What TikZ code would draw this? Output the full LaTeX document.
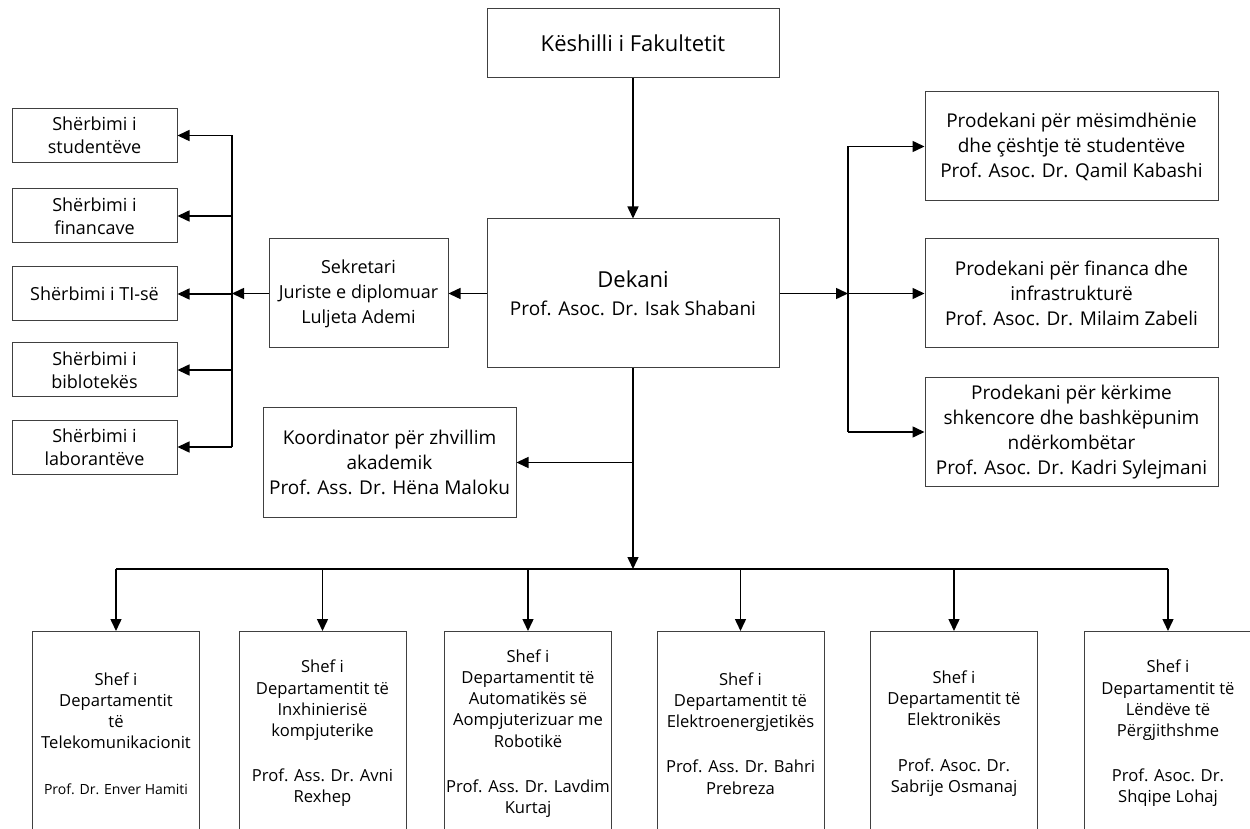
\documentclass[tikz,border=0pt]{standalone}
\usepackage{fontspec}
\setmainfont{Open Sans}
\usetikzlibrary{arrows.meta}

\begin{document}
\begin{tikzpicture}[x=0.5pt, y=-0.5pt,
        box/.style={draw=black!75, line width=0.5pt, inner sep=1pt, align=center},
        mainbox/.style={box, minimum width=146pt, font=\fontsize{9.5pt}{14pt}\selectfont},
        servbox/.style={box, minimum width=82.5pt, minimum height=27pt, font=\fontsize{9pt}{11.5pt}\selectfont},
        midbox/.style={box, minimum height=54.5pt, font=\fontsize{9.5pt}{12.5pt}\selectfont},
        probox/.style={midbox, minimum width=146.5pt},
        depbox/.style={box, anchor=north, minimum width=83.5pt, minimum height=102pt, font=\fontsize{8.3pt}{10.6pt}\selectfont},
        link/.style={line width=0.75pt},
        arr/.style={link, -{Triangle[length=6pt,width=5.5pt]}}]
    \useasboundingbox (0,0) rectangle (1250,829);
    \clip (0,0) rectangle (1250,829);

    % top
    \node[mainbox, minimum height=34.5pt, font=\fontsize{11pt}{14pt}\selectfont] (kes) at (633,43.5) {Këshilli i Fakultetit};
    \node[mainbox, minimum height=74.5pt] (dek) at (633,293.5) {{\fontsize{11pt}{14pt}\selectfont Dekani}\\Prof. Asoc. Dr. Isak Shabani};
    \node[midbox, minimum width=89.5pt, font=\fontsize{9pt}{12.5pt}\selectfont] (sek) at (358.5,293.5) {Sekretari\\Juriste e diplomuar\\Luljeta Ademi};
    \node[midbox, minimum width=126.5pt] (koo) at (389.5,462.5) {Koordinator për zhvillim\\akademik\\Prof. Ass. Dr. Hëna Maloku};

    % services
    \node[servbox] (s1) at (94.5,135.5) {Shërbimi i\\studentëve};
    \node[servbox] (s2) at (94.5,216) {Shërbimi i\\financave};
    \node[servbox] (s3) at (94.5,294) {Shërbimi i TI-së};
    \node[servbox] (s4) at (94.5,370) {Shërbimi i\\biblotekës};
    \node[servbox] (s5) at (94.5,447) {Shërbimi i\\laborantëve};

    % vice deans
    \node[probox] (p1) at (1071.5,146.5) {Prodekani për mësimdhënie\\dhe çështje të studentëve\\Prof. Asoc. Dr. Qamil Kabashi};
    \node[probox] (p2) at (1071.5,293.5) {Prodekani për financa dhe\\infrastrukturë\\Prof. Asoc. Dr. Milaim Zabeli};
    \node[probox] (p3) at (1071.5,432) {Prodekani për kërkime\\shkencore dhe bashkëpunim\\ndërkombëtar\\Prof. Asoc. Dr. Kadri Sylejmani};

    % departments
    \node[depbox] (d1) at (116,631) {Shef i\\Departamentit\\të\\Telekomunikacionit\\[12pt]{\fontsize{7pt}{9pt}\selectfont Prof. Dr. Enver Hamiti}};
    \node[depbox] (d2) at (322.5,631) {Shef i\\Departamentit të\\Inxhinierisë\\kompjuterike\\[12pt]Prof. Ass. Dr. Avni\\Rexhep};
    \node[depbox] (d3) at (528,631) {Shef i\\Departamentit të\\Automatikës së\\Aompjuterizuar me\\Robotikë\\[12pt]Prof. Ass. Dr. Lavdim\\Kurtaj};
    \node[depbox] (d4) at (740.5,631) {Shef i\\Departamentit të\\Elektroenergjetikës\\[12pt]Prof. Ass. Dr. Bahri\\Prebreza};
    \node[depbox] (d5) at (954,631) {Shef i\\Departamentit të\\Elektronikës\\[12pt]Prof. Asoc. Dr.\\Sabrije Osmanaj};
    \node[depbox] (d6) at (1168,631) {Shef i\\Departamentit të\\Lëndëve të\\Përgjithshme\\[12pt]Prof. Asoc. Dr.\\Shqipe Lohaj};

    \coordinate (lbus) at (232,293.5);
    \coordinate (rbus) at (848,293.5);
    \coordinate (hbus) at (633,569);

    \draw[arr] (kes) -- (dek);

    % left side
    \draw[arr] (dek) -- (sek);
    \draw[arr] (sek) -- (lbus);
    \draw[link] (lbus |- s1.east) -- (lbus |- s5.east);
    \foreach \i in {1,...,5}
        \draw[arr] (lbus |- s\i.east) -- (s\i.east);

    % right side
    \draw[arr] (dek) -- (rbus);
    \draw[link] (rbus |- p1.west) -- (rbus |- p3.west);
    \foreach \i in {1,2,3}
        \draw[arr] (rbus |- p\i.west) -- (p\i.west);

    % down
    \draw[arr] (dek) -- (hbus);
    \draw[arr] (dek.south |- koo.east) -- (koo.east);
    \draw[link] (d1.north |- hbus) -- (d6.north |- hbus);
    \foreach \i in {1,...,6}
        \draw[arr] (d\i.north |- hbus) -- (d\i.north);
\end{tikzpicture}
\end{document}
